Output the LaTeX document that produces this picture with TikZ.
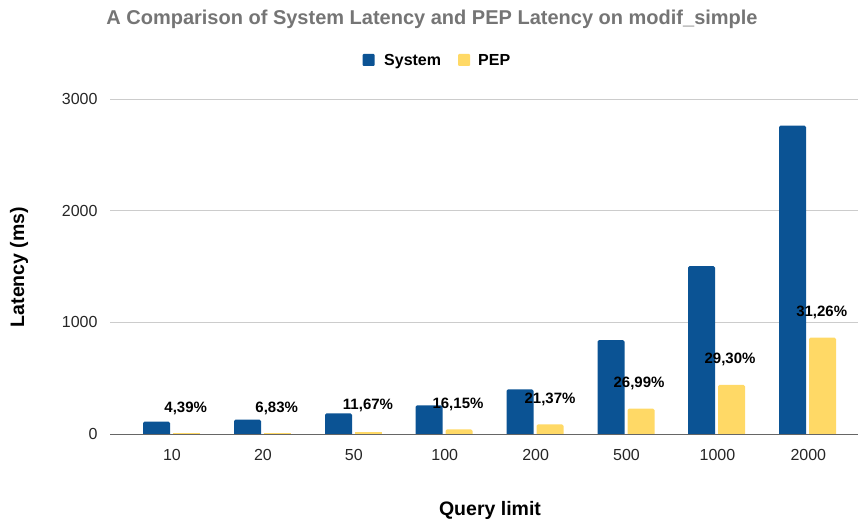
\documentclass[tikz,border=0pt]{standalone}
\usepackage{fontspec}
\setmainfont{Liberation Sans}
\definecolor{sysblue}{HTML}{0B5394}
\definecolor{pepyellow}{HTML}{FFD966}
\definecolor{titlegray}{HTML}{757575}
\definecolor{gridgray}{HTML}{CCCCCC}
\definecolor{axisgray}{HTML}{666666}

\begin{document}
\begin{tikzpicture}[x=1pt,y=-1pt]
        \tikzstyle{sysbar}=[fill=sysblue]
        \tikzstyle{pepbar}=[fill=pepyellow]
        \tikzstyle{grid}=[draw=gridgray, line width=0.8pt]
        \tikzstyle{tick}=[font=\fontsize{16}{18}\selectfont, text=black!85]
        \tikzstyle{pct}=[font=\bfseries\fontsize{15}{17}\selectfont, inner sep=0pt]
        \tikzstyle{axtitle}=[font=\bfseries\fontsize{19.5}{22}\selectfont, inner sep=0pt]

        \useasboundingbox (0,0) rectangle (859,524);

        % title and legend
        \node [font=\bfseries\fontsize{20}{24}\selectfont, text=titlegray, anchor=base, inner sep=0pt] (title) at (432,25) {A Comparison of System Latency and PEP Latency on modif\_simple};
        \fill [sysblue, rounded corners=1pt] (362.7,54) rectangle (374.7,66);
        \node [font=\bfseries\fontsize{16}{18}\selectfont, anchor=base west, inner sep=0pt] (legsys) at (384,66) {System};
        \fill [pepyellow, rounded corners=1pt] (458,54) rectangle (470,66);
        \node [font=\bfseries\fontsize{16}{18}\selectfont, anchor=base west, inner sep=0pt] (legpep) at (478,66) {PEP};

        % grid and y ticks
        \coordinate (g0) at (110,434);
        \coordinate (g0e) at (858,434);
        \path[grid] (110,322) -- (858,322);
        \path[grid] (110,210.5) -- (858,210.5);
        \path[grid] (110,99) -- (858,99);
        \node [tick, anchor=east] (y0) at (101,434) {0};
        \node [tick, anchor=east] (y1) at (101,322) {1000};
        \node [tick, anchor=east] (y2) at (101,210.5) {2000};
        \node [tick, anchor=east] (y3) at (101,99) {3000};

        % bars, in data units
        \begin{scope}[shift={(0,434)}, yscale=-0.1117]
          \fill [sysbar] (143,0) [rounded corners=1.5pt] -- (143,110) -- (170,110) [sharp corners] -- (170,0) -- cycle;
          \fill [pepbar] (173,0) -- (173,4.8) -- (200,4.8) -- (200,0) -- cycle;
          \fill [sysbar] (234,0) [rounded corners=1.5pt] -- (234,128) -- (261,128) [sharp corners] -- (261,0) -- cycle;
          \fill [pepbar] (264,0) -- (264,8.7) -- (291,8.7) -- (291,0) -- cycle;
          \fill [sysbar] (325,0) [rounded corners=1.5pt] -- (325,185) -- (352,185) [sharp corners] -- (352,0) -- cycle;
          \fill [pepbar] (355,0) -- (355,21.6) -- (382,21.6) -- (382,0) -- cycle;
          \fill [sysbar] (415.5,0) [rounded corners=1.5pt] -- (415.5,257) -- (442.5,257) [sharp corners] -- (442.5,0) -- cycle;
          \fill [pepbar] (445.5,0) [rounded corners=1.5pt] -- (445.5,41.5) -- (472.5,41.5) [sharp corners] -- (472.5,0) -- cycle;
          \fill [sysbar] (506.5,0) [rounded corners=1.5pt] -- (506.5,400) -- (533.5,400) [sharp corners] -- (533.5,0) -- cycle;
          \fill [pepbar] (536.5,0) [rounded corners=1.5pt] -- (536.5,85.5) -- (563.5,85.5) [sharp corners] -- (563.5,0) -- cycle;
          \fill [sysbar] (597.5,0) [rounded corners=1.5pt] -- (597.5,841) -- (624.5,841) [sharp corners] -- (624.5,0) -- cycle;
          \fill [pepbar] (627.5,0) [rounded corners=1.5pt] -- (627.5,227) -- (654.5,227) [sharp corners] -- (654.5,0) -- cycle;
          \fill [sysbar] (688,0) [rounded corners=1.5pt] -- (688,1504) -- (715,1504) [sharp corners] -- (715,0) -- cycle;
          \fill [pepbar] (718,0) [rounded corners=1.5pt] -- (718,440.7) -- (745,440.7) [sharp corners] -- (745,0) -- cycle;
          \fill [sysbar] (779,0) [rounded corners=1.5pt] -- (779,2760) -- (806,2760) [sharp corners] -- (806,0) -- cycle;
          \fill [pepbar] (809,0) [rounded corners=1.5pt] -- (809,862.8) -- (836,862.8) [sharp corners] -- (836,0) -- cycle;
        \end{scope}

        % baseline
        \path[draw=axisgray, line width=1pt] (g0) -- (g0e);

        % percentage labels
        \node [pct] (p10)   at (185.7,408) {4,39\%};
        \node [pct] (p20)   at (276.7,408) {6,83\%};
        \node [pct] (p50)   at (368,405)   {11,67\%};
        \node [pct] (p100)  at (458,404)   {16,15\%};
        \node [pct] (p200)  at (550,399)   {21,37\%};
        \node [pct] (p500)  at (639,383)   {26,99\%};
        \node [pct] (p1000) at (730,359)   {29,30\%};
        \node [pct] (p2000) at (821.7,312) {31,26\%};

        % x ticks
        \node [tick] (x10)   at (172,455) {10};
        \node [tick] (x20)   at (262.9,455) {20};
        \node [tick] (x50)   at (353.8,455) {50};
        \node [tick] (x100)  at (444.7,455) {100};
        \node [tick] (x200)  at (535.6,455) {200};
        \node [tick] (x500)  at (626.5,455) {500};
        \node [tick] (x1000) at (717.4,455) {1000};
        \node [tick] (x2000) at (808.3,455) {2000};

        % axis titles
        \node [axtitle, rotate=90] (ytitle) at (19,267) {Latency (ms)};
        \node [axtitle, anchor=base] (xtitle) at (490,515) {Query limit};
\end{tikzpicture}
\end{document}
